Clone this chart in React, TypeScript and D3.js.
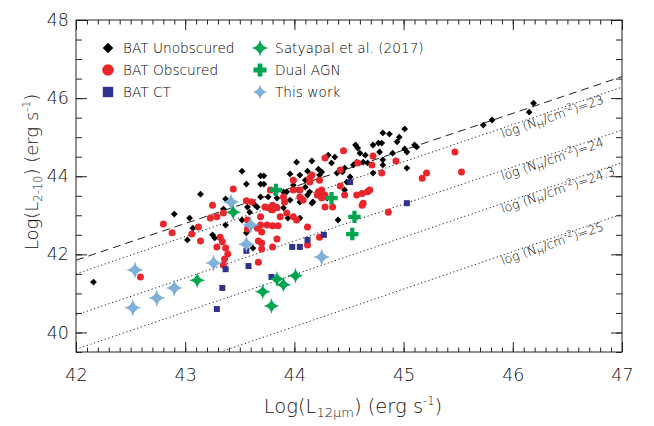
import React, { useRef, useEffect } from 'react';
import * as d3 from 'd3';

// [log L12um, log L2-10] per source
const batUnobscured: [number, number][] = [
  [42.16, 41.29], [42.90, 43.03], [43.04, 42.93], [43.14, 43.54], [43.37, 43.42], [43.37, 42.75],
  [43.52, 44.13], [43.56, 43.80], [43.35, 43.16], [43.62, 42.16], [43.52, 42.88], [43.57, 43.21],
  [43.59, 43.08], [43.64, 43.26], [43.69, 44.01], [43.72, 44.01], [43.69, 43.80], [43.72, 43.80],
  [43.69, 43.47], [43.76, 43.47], [43.84, 43.44], [43.90, 43.60], [43.96, 44.06], [44.02, 44.36],
  [44.05, 44.03], [44.10, 43.90], [44.16, 44.39], [44.12, 44.13], [44.22, 44.18], [44.23, 44.03],
  [44.31, 44.54], [43.99, 43.77], [44.03, 43.65], [44.12, 43.52], [44.16, 43.31], [44.23, 43.52],
  [44.30, 43.44], [43.94, 42.93], [44.05, 42.93], [43.25, 42.50], [43.27, 42.42], [43.02, 42.37],
  [43.07, 42.67], [43.56, 42.55], [44.25, 44.11], [44.37, 44.49], [44.34, 44.34], [44.39, 44.08],
  [44.44, 44.11], [44.46, 44.21], [44.48, 43.85], [44.51, 43.98], [44.54, 44.29], [44.57, 44.36],
  [44.56, 44.80], [44.58, 44.72], [44.60, 44.59], [44.65, 44.54], [44.63, 44.36], [44.67, 44.34],
  [44.72, 44.80], [44.77, 44.85], [44.80, 44.85], [44.81, 45.11], [44.87, 45.08], [44.78, 44.62],
  [44.81, 44.42], [44.81, 44.29], [44.90, 44.59], [44.94, 44.88], [44.96, 45.00], [45.01, 45.21],
  [45.01, 44.70], [45.03, 44.62], [45.10, 44.80], [45.12, 44.75], [45.03, 44.21], [44.72, 44.08],
  [44.40, 42.88], [44.46, 43.65], [44.10, 43.72], [44.14, 43.60], [44.05, 43.34], [44.17, 43.34],
  [43.96, 43.39], [43.90, 43.19], [43.93, 43.60], [43.78, 43.14], [43.84, 43.21], [43.66, 43.21],
  [45.73, 45.31], [45.81, 45.44], [46.15, 45.64], [46.19, 45.87],
];

const batObscured: [number, number][] = [
  [42.80, 42.78], [42.88, 42.55], [43.12, 42.70], [43.06, 42.52], [43.14, 42.34], [43.23, 42.93],
  [43.25, 43.26], [43.29, 42.96], [43.35, 43.06], [43.44, 43.67], [43.56, 43.37], [43.61, 43.34],
  [43.32, 42.44], [43.34, 42.32], [43.29, 42.19], [43.37, 42.16], [43.39, 42.01], [43.36, 41.88],
  [43.35, 41.73], [42.59, 41.42], [43.57, 42.88], [43.57, 42.65], [43.69, 42.75], [43.75, 42.75],
  [43.80, 42.73], [43.85, 42.73], [43.70, 42.57], [43.67, 42.34], [43.70, 42.14], [43.67, 41.80],
  [43.80, 42.19], [43.84, 42.39], [43.87, 42.96], [43.80, 43.14], [43.76, 43.19], [43.73, 43.21],
  [43.80, 43.26], [43.91, 43.34], [43.93, 43.06], [43.99, 42.96], [44.02, 42.88], [44.12, 42.70],
  [43.99, 43.90], [44.05, 43.65], [44.14, 43.95], [44.16, 44.03], [44.22, 43.60], [44.25, 43.44],
  [44.28, 44.47], [44.23, 42.44], [44.12, 42.24], [44.45, 44.65], [44.42, 44.16], [44.58, 44.34],
  [44.72, 44.52], [44.71, 44.29], [44.80, 44.08], [44.93, 44.39], [45.47, 44.62], [45.21, 44.08],
  [45.17, 43.95], [45.53, 44.11], [43.99, 43.65], [44.14, 43.85], [44.23, 43.90], [44.25, 43.65],
  [44.21, 43.52], [44.28, 43.52], [44.42, 43.75], [44.46, 43.52], [44.57, 43.52], [44.62, 43.56],
  [44.67, 43.60], [44.69, 43.65], [44.63, 43.31], [44.62, 43.26], [44.86, 43.08], [44.35, 43.21],
  [44.28, 43.21], [43.78, 43.65], [43.90, 43.47], [44.05, 43.47], [44.08, 43.39], [43.84, 43.19],
  [43.69, 42.96], [43.66, 42.67], [43.70, 42.29],
];

const batCT: [number, number][] = [
  [43.37, 41.62], [43.34, 41.14], [43.29, 40.60], [43.58, 41.70], [43.56, 42.09], [43.79, 41.42],
  [43.98, 42.19], [44.05, 42.19], [44.12, 42.37], [44.27, 42.50], [44.51, 43.85], [45.03, 43.31],
];

const satyapal: [number, number][] = [
  [43.11, 41.34], [43.44, 43.08], [43.71, 41.04], [43.79, 40.68], [43.84, 41.37], [43.90, 41.22],
  [44.01, 41.45],
];

const dualAGN: [number, number][] = [
  [43.83, 43.65], [44.34, 43.44], [44.55, 42.96], [44.53, 42.52],
];

const thisWork: [number, number][] = [
  [42.54, 41.60], [42.52, 40.63], [42.74, 40.88], [42.90, 41.14], [43.26, 41.78], [43.42, 43.34],
  [43.60, 42.75], [43.56, 42.26], [44.25, 41.93],
];

// reference relations: value of log L2-10 at log L12 = 42 and 47
const relationNames = ['unobscured', '23', '24', '24.3', '25'];
const relationAt42 = [41.85, 41.5, 40.45, 39.57, 38.23];
const relationAt47 = [46.55, 46.28, 45.18, 44.35, 43.03];

const xTicks = [42, 43, 44, 45, 46, 47];
const yTicks = [40, 42, 44, 46, 48];

const legendLeft = ['BAT Unobscured', 'BAT Obscured', 'BAT CT'];
const legendRight = ['Satyapal et al. (2017)', 'Dual AGN', 'This work'];

const FONT = '"DejaVu Sans", sans-serif';
const WEIGHT = 200;
const INK = '#111';
const RED = '#e8262b';
const NAVY = '#2e3191';
const GREEN = '#00a54f';
const LBLUE = '#7eb0da';

const diamond = (s: number) => `M0,${-s}L${s},0L0,${s}L${-s},0Z`;
const square = (s: number) => `M${-s},${-s}H${s}V${s}H${-s}Z`;
const star = (R: number) => {
  const k = R * 0.14;
  return `M0,${-R}Q${k},${-k} ${R},0Q${k},${k} 0,${R}Q${-k},${k} ${-R},0Q${-k},${-k} 0,${-R}Z`;
};
const cross = (a: number, t: number) => {
  const h = t / 2;
  return `M${-h},${-a}H${h}V${-h}H${a}V${h}H${h}V${a}H${-h}V${h}H${-a}V${-h}H${-h}Z`;
};

const App = () => {
  const svgRef = useRef<SVGSVGElement>(null);

  useEffect(() => {
    const width = 654, height = 426;
    const margin = { top: 20, right: 32, bottom: 74, left: 76 };
    const iw = width - margin.left - margin.right;
    const ih = height - margin.top - margin.bottom;

    const svg = d3.select(svgRef.current);
    svg.selectAll('*').remove();
    svg.attr('width', width).attr('height', height);

    svg.append('defs').append('clipPath').attr('id', 'frame')
      .append('rect').attr('width', iw).attr('height', ih);

    const g = svg.append('g').attr('transform', `translate(${margin.left},${margin.top})`);

    const x = d3.scaleLinear().domain([42, 47]).range([0, iw]);
    const y = d3.scaleLinear().domain([39.5, 48]).range([ih, 0]);

    // Relation lines
    const lines = g.append('g').attr('clip-path', 'url(#frame)');
    relationNames.forEach((name, i) => {
      lines.append('line')
        .attr('x1', x(42)).attr('y1', y(relationAt42[i]))
        .attr('x2', x(47)).attr('y2', y(relationAt47[i]))
        .attr('stroke', '#222').attr('stroke-width', 1)
        .attr('stroke-dasharray', i === 0 ? '8,5' : '1.2,2.6');
    });

    // Line labels
    relationNames.slice(1).forEach((name, j) => {
      const i = j + 1;
      const slope = (relationAt47[i] - relationAt42[i]) / 5;
      const x0 = 45.88;
      const y0 = relationAt42[i] + slope * (x0 - 42);
      const ang = Math.atan2(y(relationAt47[i]) - y(relationAt42[i]), x(47) - x(42)) * 180 / Math.PI;
      const t = g.append('text')
        .attr('transform', `translate(${x(x0)},${y(y0)}) rotate(${ang})`)
        .attr('y', 9.5)
        .attr('font-family', FONT).attr('font-weight', WEIGHT).attr('font-size', 12.5).attr('fill', '#000');
      t.append('tspan').text('log (N');
      t.append('tspan').attr('dy', 3).attr('font-size', 9.5).text('H');
      t.append('tspan').attr('dy', -3).text('/cm');
      t.append('tspan').attr('dy', -5).attr('font-size', 9).text('-2');
      t.append('tspan').attr('dy', 5).text(`)=${name}`);
    });

    // Points
    const drawSet = (data: [number, number][], d: string, color: string) => {
      g.append('g').selectAll('path').data(data).enter().append('path')
        .attr('transform', p => `translate(${x(p[0])},${y(p[1])})`)
        .attr('d', d).attr('fill', color);
    };
    drawSet(batUnobscured, diamond(3.4), '#000');
    g.append('g').selectAll('circle').data(batObscured).enter().append('circle')
      .attr('cx', p => x(p[0])).attr('cy', p => y(p[1])).attr('r', 3.5).attr('fill', RED);
    drawSet(batCT, square(3), NAVY);
    drawSet(thisWork, star(8.8), LBLUE);
    drawSet(satyapal, star(8), GREEN);
    drawSet(dualAGN, cross(6.2, 4.2), GREEN);

    // Axes (ticks inside the frame)
    const styleAxis = (s: any) => {
      s.select('.domain').remove();
      s.selectAll('.tick line').attr('stroke', '#222');
      s.selectAll('.tick text').attr('font-family', FONT).attr('font-weight', WEIGHT)
        .attr('font-size', 17.5).attr('fill', INK);
    };
    const xMinor = d3.range(42, 47.001, 0.1);
    const yMinor = d3.range(39.5, 48.001, 0.5);

    g.append('g').attr('transform', `translate(0,${ih})`)
      .call(d3.axisBottom(x).tickValues(xMinor).tickSize(-4.5).tickFormat(() => '')).call(styleAxis);
    g.append('g').attr('transform', `translate(0,${ih})`)
      .call(d3.axisBottom(x).tickValues(xTicks).tickSize(-10).tickPadding(17).tickFormat(d3.format('d'))).call(styleAxis);
    g.append('g')
      .call(d3.axisTop(x).tickValues(xMinor).tickSize(-4.5).tickFormat(() => '')).call(styleAxis);
    g.append('g')
      .call(d3.axisTop(x).tickValues(xTicks).tickSize(-10).tickFormat(() => '')).call(styleAxis);

    g.append('g')
      .call(d3.axisLeft(y).tickValues(yMinor).tickSize(-6).tickFormat(() => '')).call(styleAxis);
    g.append('g')
      .call(d3.axisLeft(y).tickValues(yTicks).tickSize(-11).tickPadding(7).tickFormat(d3.format('d'))).call(styleAxis);
    g.append('g').attr('transform', `translate(${iw},0)`)
      .call(d3.axisRight(y).tickValues(yMinor).tickSize(-6).tickFormat(() => '')).call(styleAxis);
    g.append('g').attr('transform', `translate(${iw},0)`)
      .call(d3.axisRight(y).tickValues(yTicks).tickSize(-11).tickFormat(() => '')).call(styleAxis);

    g.append('rect').attr('width', iw).attr('height', ih)
      .attr('fill', 'none').attr('stroke', '#222').attr('stroke-width', 1);

    // Axis titles
    const xt = svg.append('text')
      .attr('x', margin.left + iw / 2 + 4).attr('y', 413).attr('text-anchor', 'middle')
      .attr('font-family', FONT).attr('font-weight', WEIGHT).attr('font-size', 19.5).attr('fill', INK);
    xt.append('tspan').text('Log(L');
    xt.append('tspan').attr('dy', 4).attr('font-size', 13).text('12μm');
    xt.append('tspan').attr('dy', -4).text(') (erg s');
    xt.append('tspan').attr('dy', -8).attr('font-size', 11.5).text('-1');
    xt.append('tspan').attr('dy', 8).text(')');

    const yt = svg.append('text')
      .attr('transform', `translate(38,${172}) rotate(-90)`).attr('text-anchor', 'middle')
      .attr('font-family', FONT).attr('font-weight', WEIGHT).attr('font-size', 18).attr('fill', INK);
    yt.append('tspan').text('Log(L');
    yt.append('tspan').attr('dy', 4).attr('font-size', 11.5).text('2-10');
    yt.append('tspan').attr('dy', -4).text(') (erg s');
    yt.append('tspan').attr('dy', -8).attr('font-size', 11).text('-1');
    yt.append('tspan').attr('dy', 8).text(')');

    // Legend
    const rowY = [48, 70, 92];
    const leftMarks = [
      { d: diamond(5.3), c: '#000' },
      { d: null, c: RED },
      { d: square(5.2), c: NAVY },
    ];
    const rightMarks = [
      { d: star(8.5), c: GREEN },
      { d: cross(6.5, 4.8), c: GREEN },
      { d: star(7.8), c: LBLUE },
    ];
    const leg = svg.append('g');
    legendLeft.forEach((label, i) => {
      const m = leftMarks[i];
      if (m.d) leg.append('path').attr('transform', `translate(108,${rowY[i]})`).attr('d', m.d).attr('fill', m.c);
      else leg.append('circle').attr('cx', 108).attr('cy', rowY[i]).attr('r', 5.8).attr('fill', m.c);
      leg.append('text').attr('x', 123).attr('y', rowY[i] + 5.2)
        .attr('font-family', FONT).attr('font-weight', WEIGHT).attr('font-size', 13.7).attr('fill', '#000').text(label);
    });
    legendRight.forEach((label, i) => {
      const m = rightMarks[i];
      leg.append('path').attr('transform', `translate(260,${rowY[i]})`).attr('d', m.d).attr('fill', m.c);
      leg.append('text').attr('x', 275).attr('y', rowY[i] + 5.2)
        .attr('font-family', FONT).attr('font-weight', WEIGHT).attr('font-size', 13.7).attr('fill', '#000').text(label);
    });
  }, []);

  return (
    <div style={{ position: 'fixed', left: 0, top: 0, background: '#fff' }}>
      <svg ref={svgRef} style={{ display: 'block' }} />
    </div>
  );
};

export default App;
